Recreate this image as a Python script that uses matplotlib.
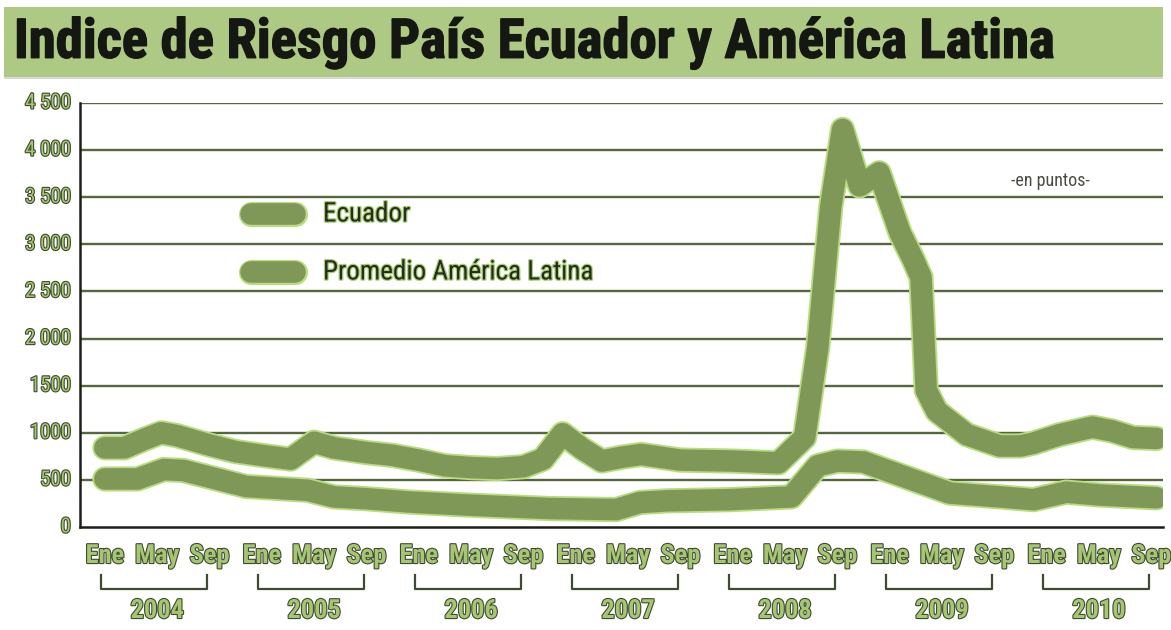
import matplotlib
matplotlib.use("Agg")
import matplotlib.pyplot as plt
import matplotlib.patheffects as pe
from matplotlib import font_manager
from matplotlib.lines import Line2D
from matplotlib.patches import Rectangle

# ---------------- data ----------------
title = "Indice de Riesgo País Ecuador y América Latina"
series_names = ["Ecuador", "Promedio América Latina"]
# month offsets from Ene 2004 (0 = Jan 2004)
ecuador_months = [0, 1.5, 3, 4.3, 5.5, 8, 10, 12, 14.2, 16, 17.5, 20, 22, 24, 26, 28, 30, 32,
                  33.5, 35, 36.5, 38, 39.5, 41, 44, 48, 51.5, 53.5, 54.5, 55.5, 56.4, 57.7,
                  59.2, 60.8, 61.8, 62.4, 62.8, 63.6, 65.9, 68.4, 70, 71, 73, 75.5, 77, 78.6, 80.4]
ecuador_values = [840, 840, 930, 1000, 970, 870, 800, 760, 720, 900, 840, 790, 760, 710, 650, 630, 620, 640,
                  720, 990, 830, 700, 740, 770, 710, 700, 680, 950, 1900, 3400, 4220, 3620,
                  3760, 3120, 2840, 2650, 1450, 1230, 980, 860, 860, 890, 980, 1060, 1020, 950, 940]
latam_months = [0, 2.5, 4.5, 6, 10.8, 15.5, 17.5, 20, 23.3, 27.7, 34, 39.1, 40.9, 43, 47.8,
                52.5, 54.5, 56, 58, 60.8, 64.6, 68.4, 71, 73.5, 76, 80.4]
latam_values = [510, 510, 610, 600, 430, 390, 320, 300, 265, 233, 196, 185, 260, 278, 290,
                320, 650, 700, 690, 550, 360, 320, 290, 370, 340, 310]
y_ticks = [0, 500, 1000, 1500, 2000, 2500, 3000, 3500, 4000, 4500]
y_tick_labels = ["0", "500", "1000", "1500", "2 000", "2 500", "3 000", "3 500", "4 000", "4 500"]
month_labels = ["Ene", "May", "Sep"]
month_label_offsets = [0, 4, 8]
years = ["2004", "2005", "2006", "2007", "2008", "2009", "2010"]
unit_note = "-en puntos-"

# ---------------- styling ----------------
avail = {f.name for f in font_manager.fontManager.ttflist}
def pick(*names):
    for n in names:
        if n in avail:
            return n
    return "DejaVu Sans"
NARROW = pick("Liberation Sans Narrow", "DejaVu Sans Condensed", "Roboto Condensed", "Roboto", "Lato")
TITLEF = pick("Liberation Sans Narrow", "Roboto Condensed", "Open Sans", "Roboto")

W, H = 1171, 630
fig = plt.figure(figsize=(W / 100, H / 100), dpi=100)
fig.patch.set_facecolor("white")

LINE = "#7f9858"
GLOW = "#b8dc7e"
GRID = "#56663f"
LBL = "#a6c673"
DARK = "#3f4b30"

def fx(px):
    return px / W
def fy(py):
    return 1 - py / H

# title banner
fig.patches.append(Rectangle((fx(4), fy(77)), fx(1163) - fx(4), fy(7) - fy(77),
                             transform=fig.transFigure, facecolor="#aec983",
                             edgecolor="none", zorder=0))
fig.patches.append(Rectangle((fx(4), fy(79)), fx(1163) - fx(4), fy(77) - fy(79),
                             transform=fig.transFigure, facecolor="#d8d8d8",
                             edgecolor="none", zorder=0))
t = fig.text(fx(14), fy(43), title, fontsize=36, fontweight="bold", family=TITLEF,
             color="#151812", ha="left", va="center",
             path_effects=[pe.withStroke(linewidth=1.0, foreground="#151812")])
fig.canvas.draw()
bb = t.get_window_extent()
target = 1055 - 14
if bb.width > 0:
    t.set_fontsize(36 * target / bb.width)

# axes
L, R, T, B = 80, 1163, 103, 527
ax = fig.add_axes([fx(L), fy(B), fx(R) - fx(L), fy(T) - fy(B)])
ax.set_xlim(-1.9, 80.9)
ax.set_ylim(0, 4500)
for s in ["top", "right"]:
    ax.spines[s].set_visible(False)
ax.spines["left"].set_color("#1c1f18")
ax.spines["left"].set_linewidth(1.8)
ax.spines["bottom"].set_color("#1c1f18")
ax.spines["bottom"].set_linewidth(1.8)
ax.set_xticks([])
ax.set_yticks([])
for v in y_ticks[1:]:
    ax.axhline(v, color=GRID, lw=1.7, zorder=1)

lw = 15.5
fx_line = [pe.Stroke(linewidth=lw + 2.6, foreground=GLOW), pe.Normal()]
ax.plot(latam_months, latam_values, color=LINE, lw=lw, solid_capstyle="round",
        solid_joinstyle="round", path_effects=fx_line, zorder=3)
ax.plot(ecuador_months, ecuador_values, color=LINE, lw=lw, solid_capstyle="round",
        solid_joinstyle="round", path_effects=fx_line, zorder=4)

lbl_fx = [pe.withStroke(linewidth=1.6, foreground=DARK)]
for v, s in zip(y_ticks, y_tick_labels):
    ax.text(-2.6, v, s, ha="right", va="center", fontsize=15, family=NARROW,
            color=LBL, path_effects=lbl_fx, clip_on=False)

# month labels, brackets and years
def mx(m):
    return ax.transData.transform((m, 0))[0] / W
for i, yr in enumerate(years):
    base = 12 * i
    for lab, off in zip(month_labels, month_label_offsets):
        fig.text(mx(base + off), fy(556), lab, ha="center", va="center", fontsize=19,
                 family=NARROW, fontweight="bold", color=LBL, path_effects=lbl_fx)
    x0, x1 = mx(base) - 4 / W, mx(base + 8) - 2 / W
    fig.lines.append(Line2D([x0, x0, x1, x1], [fy(575), fy(589), fy(589), fy(575)],
                            transform=fig.transFigure, color=DARK, lw=1.6))
    fig.text(mx(base + 4), fy(611), yr, ha="center", va="center", fontsize=19,
             family=NARROW, fontweight="bold", color=LBL, path_effects=lbl_fx)

# legend
leg_fx = [pe.Stroke(linewidth=lw + 2.6, foreground=GLOW), pe.Normal()]
for name, py in zip(series_names, [214, 272]):
    fig.lines.append(Line2D([fx(251), fx(295)], [fy(py), fy(py)], transform=fig.transFigure,
                            color=LINE, lw=lw, solid_capstyle="round", path_effects=leg_fx))
    fig.text(fx(323), fy(py), name, ha="left", va="center", fontsize=19.5, family=NARROW,
             color="#262c1e", path_effects=[pe.withStroke(linewidth=1.8, foreground="#a9cf76")])

fig.text(fx(1050), fy(181), unit_note, ha="center", va="center", fontsize=13,
         family=NARROW, color="#4a4f44")

fig.savefig("out.png", dpi=100)
